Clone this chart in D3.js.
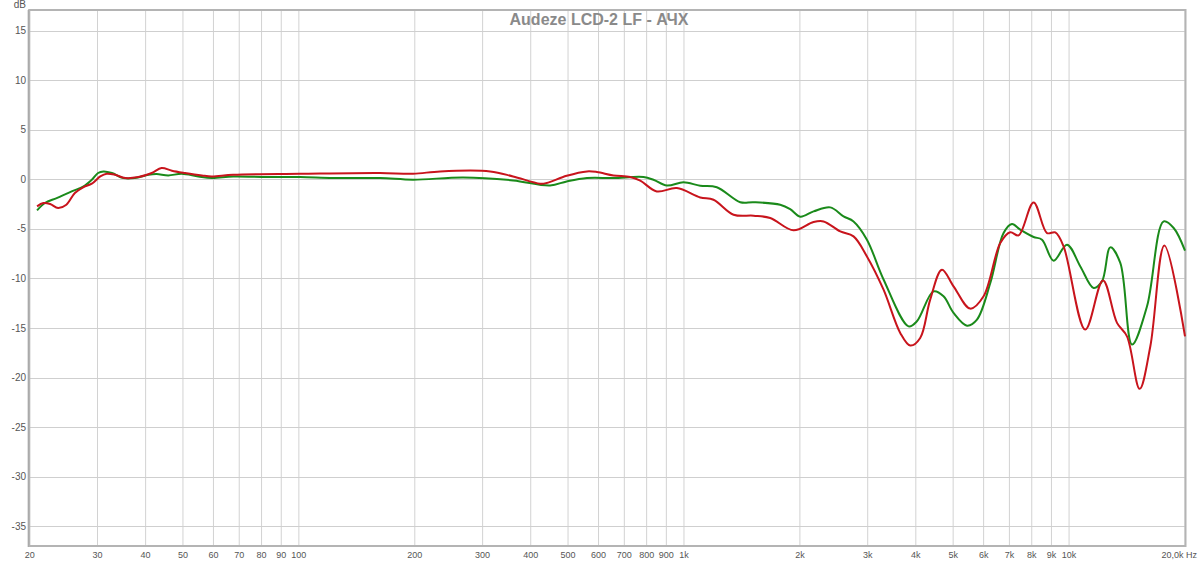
<!DOCTYPE html>
<html>
<head>
<meta charset="utf-8">
<script src="https://cdn.jsdelivr.net/npm/d3@7"></script>
<style>
  body { margin: 0; background: #fff; }
  svg { display: block; font-family: "Liberation Sans", Arial, sans-serif; }
</style>
</head>
<body>
<svg width="1200" height="562"></svg>
<script>
//data

var chartTitle = "Audeze LCD-2 LF - АЧХ";

var greenFreq = [20.9, 21.9, 23.5, 25.7, 27.6, 29.0, 30.1, 31.1, 32.7, 35.0, 37.5, 40.7, 42.7, 45.8, 49.6, 54.8, 59.4, 67.5, 82.7, 100.7, 122.7, 162.5, 198, 267, 360, 449, 496, 560, 656, 785, 833, 903, 997, 1102, 1217, 1400, 1516, 1778, 1887, 2004, 2170, 2398, 2596, 2756, 2986, 3298, 3830, 4026, 4446, 4721, 5012, 5432, 5765, 6244, 6760, 7106, 7468, 8088, 8505, 9117, 9876, 10697, 11578, 12174, 12794, 13583, 14570, 15937, 17607, 18690, 20000];
var greenDb = [-3.13, -2.38, -1.88, -1.21, -0.71, -0.03, 0.65, 0.81, 0.65, 0.14, 0.14, 0.47, 0.54, 0.40, 0.57, 0.30, 0.14, 0.30, 0.24, 0.24, 0.14, 0.14, -0.03, 0.20, -0.10, -0.61, -0.20, 0.14, 0.14, 0.24, -0.03, -0.62, -0.28, -0.64, -0.79, -2.30, -2.30, -2.55, -2.99, -3.76, -3.23, -2.82, -3.73, -4.24, -6.08, -10.1, -14.83, -14.32, -11.30, -11.80, -13.48, -14.76, -14.15, -10.45, -5.41, -4.50, -5.07, -5.81, -6.08, -8.20, -6.59, -8.78, -10.95, -10.29, -6.86, -8.43, -16.67, -12.81, -4.24, -4.90, -7.19];

var redFreq = [20.9, 21.7, 22.6, 23.7, 24.9, 26.2, 27.6, 29.0, 30.5, 31.7, 33.3, 35.4, 38.3, 41.5, 44.0, 46.8, 50.6, 56.0, 59.4, 67.5, 100.7, 162.5, 198, 232.7, 313.8, 360, 423, 440, 496, 560, 594, 656, 725, 770, 850, 958, 1102, 1193, 1345, 1516, 1675, 1925, 2170, 2304, 2546, 2756, 2986, 3298, 3644, 3869, 4106, 4359, 4676, 5012, 5538, 5998, 6628, 7035, 7393, 8088, 8764, 9210, 9678, 11017, 12248, 13319, 14139, 15248, 16256, 17680, 20000];
var redDb = [-2.72, -2.38, -2.48, -2.88, -2.55, -1.37, -0.77, -0.43, 0.30, 0.57, 0.47, 0.14, 0.24, 0.65, 1.15, 0.88, 0.65, 0.40, 0.30, 0.47, 0.57, 0.65, 0.57, 0.81, 0.81, 0.30, -0.43, -0.36, 0.37, 0.81, 0.75, 0.40, 0.24, -0.13, -1.21, -0.87, -1.82, -2.05, -3.56, -3.66, -3.89, -5.14, -4.30, -4.24, -5.25, -5.75, -7.77, -11.13, -15.49, -16.77, -16.00, -12.13, -9.11, -10.79, -13.04, -11.80, -6.42, -5.33, -5.65, -2.32, -5.41, -5.35, -6.76, -15.16, -10.19, -14.48, -15.84, -21.14, -16.84, -6.66, -15.84];

var yTicks = [15, 10, 5, 0, -5, -10, -15, -20, -25, -30, -35];
var xGrid = [20, 30, 40, 50, 60, 70, 80, 90, 100, 200, 300, 400, 500, 600, 700, 800, 900, 1000, 2000, 3000, 4000, 5000, 6000, 7000, 8000, 9000, 10000, 20000];
var xLabels = ["20", "30", "40", "50", "60", "70", "80", "90", "100", "200", "300", "400", "500", "600", "700", "800", "900", "1k", "2k", "3k", "4k", "5k", "6k", "7k", "8k", "9k", "10k"];

var svg = d3.select("svg");

var x = d3.scaleLog().domain([20, 20000]).range([29.7, 1185]);
var y = d3.scaleLinear().domain([-37, 17.1]).range([546, 10]);

//grid
svg.append("g")
	.selectAll("line")
	.data(xGrid)
	.enter().append("line")
	.attr("x1", function(d) { return x(d); })
	.attr("x2", function(d) { return x(d); })
	.attr("y1", y.range()[1])
	.attr("y2", y.range()[0])
	.attr("stroke", "#d2d2d2")
	.attr("stroke-width", 1);

svg.append("g")
	.selectAll("line")
	.data(yTicks)
	.enter().append("line")
	.attr("x1", x.range()[0])
	.attr("x2", x.range()[1])
	.attr("y1", function(d) { return Math.round(y(d)) + 0.5; })
	.attr("y2", function(d) { return Math.round(y(d)) + 0.5; })
	.attr("stroke", "#cfcfcf")
	.attr("stroke-width", 1);

//frame
svg.append("rect")
	.attr("x", x.range()[0] - 0.5)
	.attr("y", y.range()[1])
	.attr("width", x.range()[1] - x.range()[0] + 1)
	.attr("height", y.range()[0] - y.range()[1])
	.attr("fill", "none")
	.attr("stroke", "#b4b4b4")
	.attr("stroke-width", 2);

svg.append("line")
	.attr("x1", x.range()[0] - 1.5).attr("x2", x.range()[0] - 1.5)
	.attr("y1", y.range()[1]).attr("y2", y.range()[0] + 1)
	.attr("stroke", "#a0a0a0")
	.attr("stroke-width", 1);

//axis labels
svg.append("g")
	.selectAll("text")
	.data(yTicks)
	.enter().append("text")
	.attr("x", 26)
	.attr("y", function(d) { return y(d) + 3.5; })
	.attr("text-anchor", "end")
	.attr("font-size", 10)
	.attr("fill", "#555")
	.text(function(d) { return d; });

svg.append("text")
	.attr("x", 26)
	.attr("y", 8)
	.attr("text-anchor", "end")
	.attr("font-size", 10)
	.attr("fill", "#555")
	.text("dB");

svg.append("g")
	.selectAll("text")
	.data(xLabels)
	.enter().append("text")
	.attr("x", function(d, i) { return x(xGrid[i]); })
	.attr("y", 558)
	.attr("text-anchor", "middle")
	.attr("font-size", 9)
	.attr("fill", "#555")
	.text(function(d) { return d; });

svg.append("text")
	.attr("x", 1197)
	.attr("y", 558)
	.attr("text-anchor", "end")
	.attr("font-size", 9)
	.attr("fill", "#555")
	.text("20,0k Hz");

//curves
var line = d3.line()
	.x(function(d) { return x(d[0]); })
	.y(function(d) { return y(d[1]); })
	.curve(d3.curveCatmullRom.alpha(0.5));

svg.append("path")
	.datum(d3.zip(greenFreq, greenDb))
	.attr("d", line)
	.attr("fill", "none")
	.attr("stroke", "#1a8a1a")
	.attr("stroke-width", 2);

svg.append("path")
	.datum(d3.zip(redFreq, redDb))
	.attr("d", line)
	.attr("fill", "none")
	.attr("stroke", "#c8141c")
	.attr("stroke-width", 2);

//title
svg.append("text")
	.attr("x", 599)
	.attr("y", 25)
	.attr("text-anchor", "middle")
	.attr("font-size", 16)
	.attr("font-weight", "bold")
	.attr("fill", "#8a8a8a")
	.text(chartTitle);
</script>
</body>
</html>
